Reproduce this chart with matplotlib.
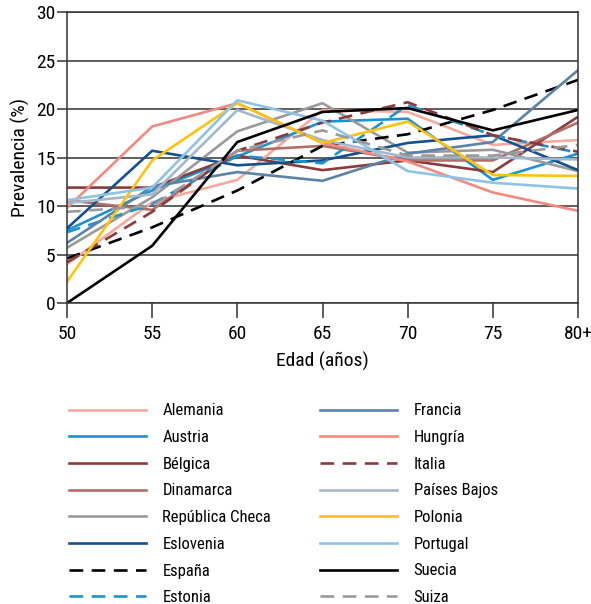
import numpy as np
import matplotlib.pyplot as plt
from matplotlib import font_manager as fm

# pick a condensed face if one is available
disponibles = {f.name for f in fm.fontManager.ttflist}
fuente = 'Lato'
for cand in ['Roboto Condensed', 'Liberation Sans Narrow', 'DejaVu Sans Condensed']:
    if cand in disponibles:
        fuente = cand
        break
plt.rcParams['font.family'] = [fuente, 'DejaVu Sans']

# Data
edades = ['50', '55', '60', '65', '70', '75', '80+']

paises = ['Alemania', 'Austria', 'Bélgica', 'Dinamarca', 'República Checa',
          'Eslovenia', 'España', 'Estonia',
          'Francia', 'Hungría', 'Italia', 'Países Bajos', 'Polonia',
          'Portugal', 'Suecia', 'Suiza']

alemania = [4.0, 10.4, 12.7, 19.9, 19.7, 16.3, 16.8]
austria = [7.5, 11.6, 15.1, 18.7, 19.0, 12.7, 15.4]
belgica = [11.9, 11.9, 15.2, 13.7, 14.7, 13.5, 19.2]
dinamarca = [10.6, 9.6, 15.7, 16.2, 14.7, 14.7, 18.6]
rep_checa = [5.7, 10.9, 17.7, 20.6, 15.5, 15.8, 13.6]
eslovenia = [7.7, 15.7, 14.2, 14.7, 16.5, 17.3, 13.7]
espana = [4.6, 7.8, 11.6, 16.2, 17.4, 19.9, 23.0]
estonia = [7.3, 10.2, 15.2, 14.4, 20.4, 17.3, 15.5]
francia = [6.2, 12.0, 13.5, 12.6, 15.4, 16.6, 24.0]
hungria = [9.8, 18.2, 20.6, 16.5, 14.6, 11.4, 9.5]
italia = [4.2, 9.4, 15.7, 18.6, 20.7, 17.3, 15.6]
paises_bajos = [10.3, 11.2, 19.9, 16.8, 15.0, 15.0, 14.8]
polonia = [2.2, 14.7, 20.6, 16.5, 18.7, 13.2, 13.1]
portugal = [10.6, 11.9, 20.9, 18.8, 13.6, 12.4, 11.8]
suecia = [0.0, 5.9, 16.6, 19.7, 20.1, 17.8, 19.9]
suiza = [9.4, 10.0, 15.7, 17.8, 15.2, 15.2, 16.3]

valores = [alemania, austria, belgica, dinamarca, rep_checa, eslovenia, espana,
           estonia, francia, hungria, italia, paises_bajos, polonia, portugal,
           suecia, suiza]

colores = ['#f5aa9f', '#1b93d2', '#8c3b3c', '#b26f67', '#9a9a9a', '#14508e',
           '#000000', '#1b93d2', '#5b83a5', '#f28a7f', '#8c3b3c', '#a5b7cb',
           '#ffc20e', '#8ec3e7', '#000000', '#9a9a9a']
estilos = ['-', '-', '-', '-', '-', '-', '--', '--',
           '-', '-', '--', '-', '-', '-', '-', '--']

fig = plt.figure(figsize=(5.91, 6.04), dpi=100)
ax = fig.add_axes([0.1134, 0.4983, 0.8646, 0.4818])

x = np.arange(len(edades))
for nombre, v, c, ls in zip(paises, valores, colores, estilos):
    ax.plot(x, v, color=c, linestyle=ls, linewidth=1.9, label=nombre,
            dashes=(5.2, 3.2) if ls == '--' else (None, None))

ax.set_xlim(0, 6)
ax.set_ylim(0, 30)
ax.set_yticks(np.arange(0, 31, 5))
ax.set_xticks(x)
ax.set_xticklabels(edades)
ax.grid(axis='y', color='#333333', linewidth=1.1)
ax.set_axisbelow(True)
for s in ax.spines.values():
    s.set_color('#333333')
    s.set_linewidth(1.1)
ax.tick_params(axis='y', length=7, width=1.1, color='#333333', pad=1.5,
               labelsize=14)
ax.tick_params(axis='x', length=11, width=1.1, color='#333333', pad=5,
               labelsize=14)
ax.set_ylabel('Prevalencia (%)', fontsize=14, labelpad=4)
ax.set_xlabel('Edad (años)', fontsize=14, labelpad=6)

fig.legend(loc='upper left', bbox_to_anchor=(0.0914, 0.357), ncol=2,
           frameon=False, fontsize=12, handlelength=4.6, handletextpad=1.0,
           columnspacing=2.95, labelspacing=0.70)

fig.savefig('out.png', dpi=100)
